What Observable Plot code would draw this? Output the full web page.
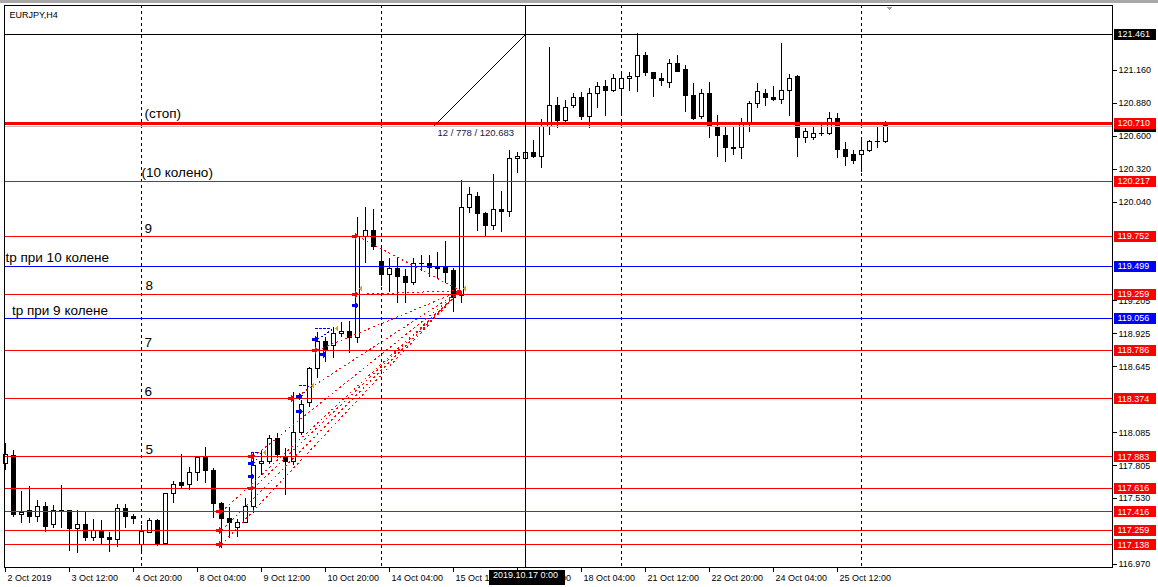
<!DOCTYPE html>
<html><head><meta charset="utf-8">
<script src="https://cdn.jsdelivr.net/npm/d3@7"></script>
<script src="https://cdn.jsdelivr.net/npm/@observablehq/plot@0.6"></script>
<style>
html,body{margin:0;padding:0;background:#fff;}
#wrap{position:relative;width:1158px;height:587px;overflow:hidden;background:#fff;}
#wrap svg{position:absolute;left:0;top:0;}
#topbar{position:absolute;left:0;top:0;width:1158px;height:3px;background:#a8a8a8;z-index:2;}
</style></head>
<body><div id="wrap"><div id="topbar"></div></div>
<script>
// ---- EURJPY H4 candles (bar index 0 = 2 Oct 2019 04:00) ----
const open = [117.817,117.885,117.393,117.419,117.368,117.453,117.308,117.419,117.419,117.274,
117.308,117.190,117.257,117.190,117.173,117.436,117.376,117.139,117.240,117.334,
117.147,117.571,117.656,117.647,117.749,117.868,117.766,117.478,117.351,117.283,
117.317,117.453,117.817,117.834,118.037,117.877,117.834,118.088,118.334,118.630,
118.851,118.817,118.927,118.944,118.893,119.741,119.792,119.529,119.427,119.470,
119.402,119.359,119.512,119.520,119.487,119.478,119.453,119.241,119.987,120.080,
119.944,119.834,119.970,119.953,120.410,120.402,120.461,120.419,120.673,120.851,
120.724,120.851,120.927,120.758,120.953,121.012,120.978,120.995,121.088,121.097,
121.283,121.131,121.088,121.054,121.215,121.156,120.944,120.758,120.961,120.681,
120.597,120.495,120.495,120.707,120.868,120.961,120.927,120.910,120.986,121.097,
120.588,120.588,120.614,120.614,120.741,120.486,120.436,120.444,120.470,120.550,
120.546];
const high = [117.994,117.935,117.588,117.630,117.512,117.495,117.470,117.639,117.427,117.427,
117.410,117.351,117.342,117.240,117.478,117.478,117.393,117.300,117.359,117.351,
117.571,117.673,117.902,117.791,117.868,117.961,117.783,117.495,117.453,117.351,
117.529,117.910,117.935,118.063,118.080,117.952,118.427,118.359,118.639,118.936,
118.893,118.978,119.020,119.028,119.910,119.995,119.978,119.648,119.563,119.563,
119.470,119.563,119.588,119.588,119.614,119.707,119.478,120.224,120.165,120.122,
119.953,120.275,120.131,120.478,120.461,120.529,120.563,120.741,121.351,120.927,
120.902,120.961,120.970,121.003,121.054,121.071,121.122,121.139,121.139,121.469,
121.308,121.131,121.131,121.249,121.283,121.198,121.046,120.995,121.054,120.775,
120.673,120.673,120.749,120.893,121.046,120.995,121.020,121.385,121.122,121.114,
120.665,120.681,120.690,120.800,120.792,120.546,120.478,120.588,120.563,120.681,
120.724];
const low = [117.766,117.368,117.317,117.317,117.325,117.240,117.274,117.274,117.080,117.063,
117.165,117.165,117.131,117.071,117.114,117.274,117.308,117.063,117.232,117.122,
117.139,117.486,117.614,117.597,117.673,117.656,117.359,117.105,117.190,117.198,
117.317,117.402,117.724,117.817,117.868,117.554,117.808,118.063,118.300,118.546,
118.681,118.715,118.893,118.758,118.842,119.521,119.631,119.325,119.275,119.181,
119.181,119.334,119.453,119.402,119.385,119.351,119.105,119.181,119.944,119.792,
119.741,119.800,119.783,119.910,120.283,120.334,120.410,120.325,120.605,120.665,
120.698,120.834,120.732,120.665,120.834,120.766,120.970,120.775,120.978,120.970,
121.105,120.927,121.020,121.003,121.147,120.800,120.732,120.741,120.580,120.419,
120.376,120.436,120.402,120.631,120.834,120.851,120.893,120.868,120.766,120.419,
120.537,120.563,120.597,120.605,120.410,120.342,120.359,120.292,120.461,120.495,
120.537];
const close = [117.894,117.393,117.410,117.368,117.453,117.291,117.427,117.427,117.274,117.308,
117.198,117.257,117.190,117.173,117.436,117.368,117.351,117.249,117.334,117.139,
117.571,117.647,117.639,117.749,117.868,117.758,117.478,117.351,117.317,117.317,
117.453,117.808,117.842,118.037,117.894,117.834,118.088,118.325,118.630,118.851,
118.775,118.927,118.944,118.885,119.741,119.792,119.656,119.419,119.470,119.402,
119.359,119.520,119.520,119.478,119.470,119.444,119.232,119.987,120.097,119.936,
119.834,119.970,119.953,120.410,120.427,120.461,120.419,120.673,120.851,120.724,
120.842,120.927,120.758,120.953,121.012,120.978,121.080,121.088,121.105,121.283,
121.131,121.080,121.071,121.215,121.147,120.936,120.749,120.953,120.681,120.597,
120.495,120.491,120.707,120.868,120.970,120.919,120.910,120.986,121.088,120.588,
120.631,120.622,120.618,120.741,120.486,120.427,120.385,120.470,120.546,120.554,
120.683];

// ---- time axis ----
const xTickBars = [0,8,16,24,32,40,48,56,64,72,80,88,96,104];
const xTickLabels = ["2 Oct 2019","3 Oct 12:00","4 Oct 20:00","8 Oct 04:00","9 Oct 12:00","10 Oct 20:00","14 Oct 04:00","15 Oct 12:00","16 Oct 20:00","18 Oct 04:00","21 Oct 12:00","22 Oct 20:00","24 Oct 04:00","25 Oct 12:00"];
const weekStartBars = [17,47,77,107];

// ---- price axis ----
const yTickValues = [121.160,120.880,120.600,120.320,120.040,119.205,118.925,118.645,118.085,117.805,117.530,116.970];

// ---- levels ----
const levelPrices = [120.217,119.752,119.259,118.786,118.374,117.883,117.616,117.416,117.259,117.138];
const tpPrices = [119.499,119.056];
const stopPrice = 120.710;
const bidPrice = 120.683;
const crossBar = 65;
const crossPrice = 121.461;
const crossDate = "2019.10.17 0:00";
const measureFromBar = 53.5;
const measureFromPrice = 120.683;
const measureText = "12 / 778 / 120.683";
const symbolTitle = "EURJPY,H4";

// ---- annotations ----
const annotationTexts = ["(стоп)","(10 колено)","9","8","7","6","5","tp при 10 колене","tp при 9 колене"];
const annotationLevels = [120.710,120.217,119.752,119.259,118.786,118.374,117.883,119.499,119.056];
const annotationBars = [17,17,17,17,17,17,17,0,0];

// ---- trades ----
const sellEntryBars = [27,27,27,31,31,36,39,44,44];
const sellEntryPrices = [117.416,117.259,117.138,117.616,117.883,118.374,118.786,119.259,119.752];
const sellExitBar = 56.9;
const sellExitPrice = 119.290;
const extraSellBars = [57];
const extraSellPrices = [119.275];
const buyEntryBars = [31,31,37,37,39,40,44];
const buyEntryPrices = [117.825,117.715,118.393,118.266,118.876,118.749,119.164];
const closeBars = [32,38,41,44,57];
const closePrices = [117.919,118.486,118.969,119.308,119.308];
const buyToClose = [[0,0],[2,1],[4,2]];

// ---------------------------------------------------------------
const candles = open.map((o,i)=>({i, o, h: high[i], l: low[i], c: close[i]}));
const labelMap = new Map(xTickBars.map((b,i)=>[b, xTickLabels[i]]));
const sellLinks = sellEntryBars.map((b,k)=>({x1:b, y1:sellEntryPrices[k], x2:sellExitBar, y2:sellExitPrice}));
const sellArrows = sellEntryBars.map((b,k)=>({x:b, y:sellEntryPrices[k]}))
  .concat(extraSellBars.map((b,k)=>({x:b, y:extraSellPrices[k]})));
const buyArrows = buyEntryBars.map((b,k)=>({x:b, y:buyEntryPrices[k]}));
const closes = closeBars.map((b,k)=>({x:b, y:closePrices[k]}));
const buyLinks = buyToClose.map(([e,c])=>({x1:buyEntryBars[e], y1:buyEntryPrices[e], x2:closeBars[c], y2:closePrices[c]}));
const buyTP = buyToClose.map(([e,c])=>({x1:buyEntryBars[e]-0.3, x2:closeBars[c]-0.4, y:closePrices[c]}));
const axisBoxes = [{p:crossPrice,c:"black"},{p:bidPrice,c:"black"},{p:stopPrice,c:"red"}]
  .concat(levelPrices.map(p=>({p,c:"red"})))
  .concat(tpPrices.map(p=>({p,c:"blue"})));

const boxSym = {draw(ctx){ctx.rect(1,-5.5,42,11);}};
const dateSym = {draw(ctx){ctx.rect(-37,2.5,76,14.5);}};
const arrowSym = {draw(ctx){ctx.moveTo(-6,-1.5);ctx.lineTo(-2.5,-1.5);ctx.lineTo(-2.5,-4);ctx.lineTo(1,0);ctx.lineTo(-2.5,4);ctx.lineTo(-2.5,1.5);ctx.lineTo(-6,1.5);ctx.closePath();}};
const closeSym = {draw(ctx){ctx.moveTo(4.5,-3.5);ctx.lineTo(4.5,3.5);ctx.lineTo(1.5,0);ctx.closePath();}};
const shiftSym = {draw(ctx){ctx.moveTo(-3.5,1);ctx.lineTo(3.5,1);ctx.lineTo(0,5);ctx.closePath();}};

const FONT = "Liberation Sans, Arial, sans-serif";
const annDx = [3,0,3,4,3,3,4,0,6.5];
const annDy = [-5,-4,-3,-4,-3,-3,-3,-4,-3];
const annMarks = annotationTexts.map((t,k)=>Plot.text([t], {
  x: ()=>annotationBars[k], y: ()=>annotationLevels[k], text: d=>d,
  textAnchor:"start", lineAnchor:"bottom", dx: annDx[k], dy: annDy[k],
  fontSize: 13.5, fontFamily: FONT, fill:"black"
}));
const boxMarks = axisBoxes.flatMap(b => [
  Plot.dot([b], {y:"p", frameAnchor:"right", symbol: boxSym, fill: b.c, stroke:"none"}),
  Plot.text([b], {y:"p", frameAnchor:"right", text: d=>d.p.toFixed(3), textAnchor:"start", dx: 5, fill:"white", fontSize: 9})
]);

const chart = Plot.plot({
  width: 1158, height: 587,
  marginLeft: 4, marginRight: 46, marginTop: 5, marginBottom: 20,
  x: {type:"linear", domain:[-0.125, 138.375]},
  y: {type:"linear", domain:[116.9441, 121.7068]},
  style: {fontFamily: FONT, fontSize: "9px", background: "white", shapeRendering: "crispEdges", overflow: "visible"},
  marks: [
    Plot.ruleX(weekStartBars, {x: d=>d, stroke:"black", strokeDasharray:"3,3"}),
    Plot.ruleX(candles, {x:"i", y1:"l", y2:"h", stroke:"black"}),
    Plot.rect(candles, {x1: d=>d.i-0.25, x2: d=>d.i+0.25, y1:"o", y2:"c", fill: d=> d.c>=d.o ? "white":"black", stroke:"black"}),
    Plot.ruleY([bidPrice], {y: d=>d, stroke:"#c0c0c0"}),
    Plot.ruleY(levelPrices, {y: d=>d, stroke:"#ff0000"}),
    Plot.ruleY(tpPrices, {y: d=>d, stroke:"#0000ff"}),
    Plot.ruleY([stopPrice], {y: d=>d, stroke:"#ff0000", strokeWidth:3}),
    Plot.ruleY([crossPrice], {y: d=>d, stroke:"black"}),
    Plot.ruleX([crossBar], {x: d=>d, stroke:"black"}),
    Plot.link(sellLinks, {x1:"x1", y1:"y1", x2:"x2", y2:"y2", stroke:"#ff0000", strokeDasharray:"2,3"}),
    Plot.link(buyLinks, {x1:"x1", y1:"y1", x2:"x2", y2:"y2", stroke:"#0000ff", strokeDasharray:"2,2"}),
    Plot.link(buyTP, {x1:"x1", y1:"y", x2:"x2", y2:"y", stroke:"#0000ff", strokeDasharray:"3,1"}),
    Plot.dot(sellArrows, {x:"x", y:"y", symbol: arrowSym, fill:"#ff0000", stroke:"none"}),
    Plot.dot(buyArrows, {x:"x", y:"y", symbol: arrowSym, fill:"#0000ff", stroke:"none"}),
    Plot.dot(closes, {x:"x", y:"y", symbol: closeSym, fill:"#daa520", stroke:"none"}),
    ...annMarks,
    Plot.link([0], {x1: ()=>measureFromBar, y1: ()=>measureFromPrice, x2: ()=>crossBar, y2: ()=>crossPrice, stroke:"black"}),
    Plot.text([measureText], {x: ()=>measureFromBar, y: ()=>measureFromPrice, text: d=>d, textAnchor:"start", lineAnchor:"bottom", dx: 4, dy: 10, fontSize: 9.5, fill:"#1a1a40"}),
    Plot.text([symbolTitle], {frameAnchor:"top-left", text: d=>d, textAnchor:"start", lineAnchor:"top", dx: 5, dy: 6, fontSize: 9, fill:"black"}),
    Plot.frame({stroke:"black"}),
    Plot.axisY({anchor:"right", ticks: yTickValues, tickFormat: d=>d.toFixed(3), tickSize: 4, tickPadding: 2, label: null, fontSize: 9}),
    Plot.axisX({anchor:"bottom", ticks: xTickBars, tickFormat: ()=>"", tickSize: 5, label: null}),
    Plot.axisX({anchor:"bottom", ticks: xTickBars, tickFormat: d=>labelMap.get(d), tickSize: 0, tickPadding: 7, textAnchor:"start", dx: 2, label: null, fontSize: 9}),
    ...boxMarks,
    Plot.dot([crossBar], {x: d=>d, frameAnchor:"bottom", symbol: dateSym, fill:"black", stroke:"none"}),
    Plot.text([crossDate], {x: ()=>crossBar, frameAnchor:"bottom", text: d=>d, dy: 10, fill:"white", fontSize: 9}),
    Plot.dot([candles.length - 0.5], {x: d=>d, frameAnchor:"top", symbol: shiftSym, fill:"#a0a0a0", stroke:"none"})
  ]
});
document.getElementById("wrap").appendChild(chart);
</script>
</body></html>
